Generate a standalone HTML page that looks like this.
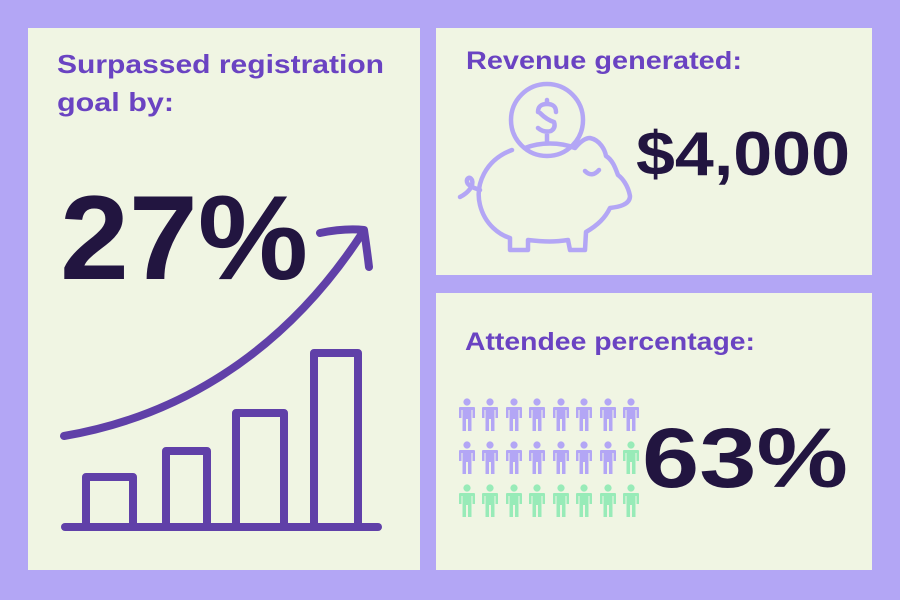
<!DOCTYPE html>
<html><head><style>
html,body{margin:0;padding:0;background:#b3a6f5;}
svg{display:block}
</style></head><body>
<svg width="900" height="600" viewBox="0 0 900 600" xmlns="http://www.w3.org/2000/svg">
<defs>
<path id="p" d="M-7 6 h14 q1 0 1 1 v10 h-2.5 v-8 h-1 v21 h-3.5 v-12 h-2 v12 h-3.5 v-21 h-1 v8 h-2.5 v-10 q0-1 1-1z M0 -2.6 a3.6 3.6 0 1 0 0.01 0z"/>
</defs>
<rect width="900" height="600" fill="#b3a6f5"/>
<rect x="28" y="28" width="392" height="542" fill="#f0f5e3"/>
<rect x="436" y="28" width="436" height="247" fill="#f0f5e3"/>
<rect x="436" y="293" width="436" height="277" fill="#f0f5e3"/>
<g font-family="Liberation Sans, sans-serif" font-weight="bold">
<text x="57" y="73" font-size="26" fill="#6a43c2" textLength="327" lengthAdjust="spacingAndGlyphs">Surpassed registration</text>
<text x="57" y="111" font-size="26" fill="#6a43c2" textLength="117" lengthAdjust="spacingAndGlyphs">goal by:</text>
<text x="60" y="279" font-size="120" fill="#221540" textLength="248" lengthAdjust="spacingAndGlyphs">27%</text>
<text x="466" y="69" font-size="25" fill="#6a43c2" textLength="276" lengthAdjust="spacingAndGlyphs">Revenue generated:</text>
<text x="636" y="175" font-size="62" fill="#221540" textLength="214" lengthAdjust="spacingAndGlyphs">$4,000</text>
<text x="465" y="350" font-size="25" fill="#6a43c2" textLength="290" lengthAdjust="spacingAndGlyphs">Attendee percentage:</text>
<text x="642" y="487" font-size="84" fill="#221540" textLength="206" lengthAdjust="spacingAndGlyphs">63%</text>
</g>
<g fill="none" stroke="#6040a8" stroke-width="8" stroke-linecap="round" stroke-linejoin="round">
<line x1="65" y1="527" x2="378" y2="527"/>
<rect x="86" y="477" width="47" height="50"/>
<rect x="166" y="451" width="41" height="76"/>
<rect x="236" y="413" width="48" height="114"/>
<rect x="314" y="353" width="44" height="174"/>
<path d="M64 436 C170 418 280 360 363 232"/>
<path d="M320 233 Q345 228 364 230 Q367 250 369 267"/>
</g>
<g fill="none" stroke="#b3a6f5" stroke-width="4.5" stroke-linecap="round" stroke-linejoin="round">
<circle cx="547" cy="120" r="36"/>
<path d="M538 112 Q538 104 547 104 Q556 104 556 112 M547 100 L547 104 M540 113 Q547 120 554 122 Q556 128 551 131 Q544 133 538 128 M547 132 L547 142"/>
<path d="M512 150 C485 160 475 185 480 205 C485 225 500 235 510 238 L510 250 L528 250 L528 240 C545 242 555 242 568 240 L570 250 L585 250 L586 232 C598 225 605 218 610 208 C618 207 630 205 630 196 C628 185 622 178 618 175 C616 170 613 160 606 156 C605 150 600 140 590 138 C585 138 580 142 575 148 C560 142 540 142 525 148"/>
<path d="M585 171 Q592 178 599 170"/>
<path d="M480 190 C474 188 468 186 467 182 C466 178 470 176 472 180 C474 186 468 193 460 197"/>
</g>
<g fill="#b3a6f5">
<use href="#p" x="467" y="401"/><use href="#p" x="490" y="401"/><use href="#p" x="514" y="401"/><use href="#p" x="537" y="401"/><use href="#p" x="561" y="401"/><use href="#p" x="584" y="401"/><use href="#p" x="608" y="401"/><use href="#p" x="631" y="401"/>
<use href="#p" x="467" y="444"/><use href="#p" x="490" y="444"/><use href="#p" x="514" y="444"/><use href="#p" x="537" y="444"/><use href="#p" x="561" y="444"/><use href="#p" x="584" y="444"/><use href="#p" x="608" y="444"/>
</g>
<g fill="#98ebb8">
<use href="#p" x="631" y="444"/>
<use href="#p" x="467" y="487"/><use href="#p" x="490" y="487"/><use href="#p" x="514" y="487"/><use href="#p" x="537" y="487"/><use href="#p" x="561" y="487"/><use href="#p" x="584" y="487"/><use href="#p" x="608" y="487"/><use href="#p" x="631" y="487"/>
</g>
</svg>
</body></html>
